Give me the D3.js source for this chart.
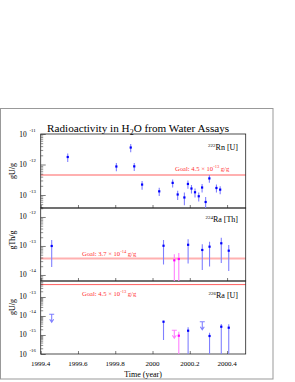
<!DOCTYPE html>
<html>
<head>
<meta charset="utf-8">
<script src="https://cdn.jsdelivr.net/npm/d3@7"></script>
<style>
body { margin: 0; background: #fff; }
svg { display: block; font-family: "Liberation Serif", "Times New Roman", serif; }
</style>
</head>
<body>
<div id="chart"></div>
<script>
const width = 295;
const height = 382;

// 222Rn assays (U chain), g/g
const rnYears = [1999.545, 1999.806, 1999.883, 1999.902, 1999.944, 2000.036, 2000.108, 2000.135, 2000.171,
    2000.190, 2000.209, 2000.228, 2000.248, 2000.266, 2000.285, 2000.305, 2000.343, 2000.363];
const rnValues = [1.76e-12, 8.6e-13, 3.6e-12, 8.7e-13, 2.2e-13, 1.32e-13, 2.5e-13, 1.04e-13, 8.3e-14,
    2.3e-13, 1.63e-13, 1.23e-13, 9.1e-14, 1.76e-13, 5.9e-14, 3.5e-13, 1.7e-13, 1.5e-13];
const rnErrors = [0.55e-12, 0.26e-12, 1.1e-12, 0.26e-12, 0.07e-12, 0.04e-12, 0.075e-12, 0.035e-12, 0.037e-12,
    0.07e-12, 0.05e-12, 0.04e-12, 0.03e-12, 0.055e-12, 0.027e-12, 0.1e-12, 0.05e-12, 0.045e-12];

// Ra assays share the sampling dates; method 'b' = blue, 'm' = magenta
const raYears = [1999.459, 2000.059, 2000.117, 2000.141, 2000.191, 2000.267, 2000.306, 2000.369, 2000.409];
const raMethod = ['b', 'b', 'm', 'm', 'b', 'b', 'b', 'b', 'b'];

// 224Ra (Th chain)
const thValues = [1.0e-13, 1.02e-13, 3.21e-14, 3.56e-14, 1.1e-13, 7.28e-14, 9.46e-14, 1.24e-13, 6.88e-14];
const thErrHigh = [6.1e-14, 5.9e-14, 1.96e-14, 2.18e-14, 6.0e-14, 4.2e-14, 4.6e-14, 6.9e-14, 3.9e-14];
const thErrLow = [8.1e-14, 7.9e-14, 3.21e-14, 3.56e-14, 8.5e-14, 5.8e-14, 7.5e-14, 9.8e-14, 5.5e-14];

// 226Ra (U chain); null value means only an upper limit was set
const uValues = [null, 5.0e-15, null, 9.18e-16, 1.68e-15, null, 8.86e-16, 2.73e-15, 2.42e-15];
const uErrHigh = [0, 0.66e-15, 0, 5.8e-16, 8.6e-16, 0, 4.4e-16, 1.06e-15, 1.23e-15];
const uErrLow = [0, 4.45e-15, 0, 9.18e-16, 1.68e-15, 0, 8.86e-16, 2.73e-15, 2.42e-15];
const uLimits = [1.23e-14, null, 1.77e-15, null, null, 5.0e-15, null, null, null];

const goals = [4.5e-13, 3.7e-14, 4.5e-13];
const goalTexts = [['4.5', '-13'], ['3.7', '-14'], ['4.5', '-13']];
const xTicks = [1999.4, 1999.6, 1999.8, 2000, 2000.2, 2000.4];

const colors = { b: '#0000ff', m: '#ff00ff' };
const barColors = { b: '#8080ff', m: '#ff80ff' };

const svg = d3.select('#chart').append('svg')
    .attr('width', width)
    .attr('height', height);

svg.append('rect').attr('width', width).attr('height', height).attr('fill', '#fff');

// outer canvas frame
svg.append('rect')
    .attr('x', 0.5).attr('y', 108.5)
    .attr('width', 272.5).attr('height', 270.5)
    .attr('fill', 'none').attr('stroke', '#999').attr('stroke-width', 1);

const left = 40.7, right = 245.7;
const x = d3.scaleLinear().domain([1999.4, 2000.5]).range([left, right]);

const panels = [
    { top: 134, bottom: 208, domain: [3.75e-14, 1e-11], iso: '222', name: 'Rn [U]', ylab: 'gU/g', ylabY: 171,
      goalX: 175, goalDy: -4, goalColor: '#ffb0b0', goalW: 2, labelY: 150 },
    { top: 208, bottom: 281, domain: [6.2e-15, 2.04e-12], iso: '224', name: 'Ra [Th]', ylab: 'gTh/g', ylabY: 240,
      goalX: 82, goalDy: -3, goalColor: '#ffb0b0', goalW: 2, labelY: 222 },
    { top: 281, bottom: 354, domain: [1e-16, 6.95e-13], iso: '226', name: 'Ra [U]', ylab: 'gU/g', ylabY: 307,
      goalX: 82, goalDy: 11, goalColor: '#ff6060', goalW: 1, labelY: 298 }
];

panels.forEach(p => {
    p.y = d3.scaleLog().domain(p.domain).range([p.bottom, p.top]);
});

// Title
const title = svg.append('text')
    .attr('x', 47).attr('y', 132)
    .attr('font-size', 11.2).attr('fill', '#000');
title.append('tspan').text('Radioactivity in H');
title.append('tspan').attr('font-size', 8).attr('dy', 3).text('2');
title.append('tspan').attr('dy', -3).text('O from Water Assays');

function drawPanel(p, i) {
    const g = svg.append('g');
    const y = p.y;

    // goal line
    g.append('line')
        .attr('x1', left).attr('x2', right)
        .attr('y1', y(goals[i])).attr('y2', y(goals[i]))
        .attr('stroke', p.goalColor).attr('stroke-width', p.goalW);

    const gt = g.append('text')
        .attr('x', p.goalX).attr('y', y(goals[i]) + p.goalDy)
        .attr('font-size', 6.6).attr('fill', '#ff3030');
    gt.append('tspan').text('Goal: ' + goalTexts[i][0] + ' \u00d7 10');
    gt.append('tspan').attr('font-size', 4.5).attr('dy', -3).text(goalTexts[i][1]);
    gt.append('tspan').attr('dy', 3).text(' g/g');

    // frame
    g.append('rect')
        .attr('x', left).attr('y', p.top)
        .attr('width', right - left).attr('height', p.bottom - p.top)
        .attr('fill', 'none').attr('stroke', '#222').attr('stroke-width', 0.8);

    // x ticks along the panel bottom
    g.append('g')
        .attr('transform', `translate(0,${p.bottom})`)
        .call(d3.axisTop(x).tickValues(xTicks).tickSize(3).tickFormat(''))
        .call(a => a.select('.domain').remove())
        .call(a => a.selectAll('line').attr('stroke', '#222').attr('stroke-width', 0.6));

    // y ticks: decades and minor ticks
    const lo = Math.ceil(Math.log10(p.domain[0]) - 1e-9);
    const hi = Math.floor(Math.log10(p.domain[1]) + 1e-9);
    const major = d3.range(lo, hi + 1).map(e => Math.pow(10, e));
    const minor = [];
    d3.range(lo - 1, hi + 1).forEach(e => {
        for (let k = 2; k < 10; k++) {
            const v = k * Math.pow(10, e);
            if (v > p.domain[0] && v < p.domain[1]) minor.push(v);
        }
    });
    g.append('g')
        .attr('transform', `translate(${left},0)`)
        .call(d3.axisRight(y).tickValues(major).tickSize(5).tickFormat(''))
        .call(a => a.select('.domain').remove())
        .call(a => a.selectAll('line').attr('stroke', '#222').attr('stroke-width', 0.6));
    g.append('g')
        .attr('transform', `translate(${left},0)`)
        .call(d3.axisRight(y).tickValues(minor).tickSize(2.5).tickFormat(''))
        .call(a => a.select('.domain').remove())
        .call(a => a.selectAll('line').attr('stroke', '#222').attr('stroke-width', 0.5));

    major.forEach(v => {
        g.append('text')
            .attr('x', 26.7).attr('y', y(v) + 2.5)
            .attr('text-anchor', 'end')
            .attr('font-size', 7.4).attr('fill', '#000')
            .text('10');
        g.append('text')
            .attr('x', 29.5).attr('y', y(v) - 2.5)
            .attr('font-size', 4.8).attr('fill', '#000')
            .text(String(Math.round(Math.log10(v))));
    });

    // y axis title
    g.append('text')
        .attr('transform', `translate(15,${p.ylabY}) rotate(-90)`)
        .attr('text-anchor', 'middle')
        .attr('font-size', 8).attr('fill', '#000')
        .text(p.ylab);

    // isotope label
    const il = g.append('text')
        .attr('x', 238).attr('y', p.labelY)
        .attr('text-anchor', 'end')
        .attr('font-size', 8).attr('fill', '#000');
    il.append('tspan').attr('font-size', 5).attr('dy', -3).text(p.iso);
    il.append('tspan').attr('dy', 3).text(p.name);
}

panels.forEach(drawPanel);

// clip per panel
panels.forEach((p, i) => {
    svg.append('clipPath').attr('id', 'clip' + i)
        .append('rect').attr('x', left).attr('y', p.top)
        .attr('width', right - left).attr('height', p.bottom - p.top);
});

function errorBar(g, xv, y, v, eLo, eHi, dom, col) {
    const yHi = y(v + eHi);
    const low = v - eLo;
    const yLo = low > dom[0] ? y(low) : y(dom[0]);
    g.append('line')
        .attr('x1', x(xv)).attr('x2', x(xv))
        .attr('y1', yHi).attr('y2', yLo)
        .attr('stroke', col).attr('stroke-width', 1.1);
}

function marker(g, xv, yv, col) {
    g.append('rect')
        .attr('x', x(xv) - 1.1).attr('y', yv - 1.1)
        .attr('width', 2.2).attr('height', 2.2)
        .attr('fill', col);
}

// Panel 1: 222Rn
{
    const p = panels[0];
    const g = svg.append('g').attr('clip-path', 'url(#clip0)');
    rnYears.forEach((yr, i) => {
        errorBar(g, yr, p.y, rnValues[i], rnErrors[i], rnErrors[i], p.domain, barColors.b);
        marker(g, yr, p.y(rnValues[i]), colors.b);
    });
}

// Panel 2: 224Ra
{
    const p = panels[1];
    const g = svg.append('g').attr('clip-path', 'url(#clip1)');
    raYears.forEach((yr, i) => {
        const m = raMethod[i];
        errorBar(g, yr, p.y, thValues[i], thErrLow[i], thErrHigh[i], p.domain, barColors[m]);
        marker(g, yr, p.y(thValues[i]), colors[m]);
    });
}

// Panel 3: 226Ra
{
    const p = panels[2];
    const g = svg.append('g').attr('clip-path', 'url(#clip2)');
    raYears.forEach((yr, i) => {
        const m = raMethod[i];
        if (uValues[i] !== null) {
            errorBar(g, yr, p.y, uValues[i], uErrLow[i], uErrHigh[i], p.domain, barColors[m]);
            marker(g, yr, p.y(uValues[i]), colors[m]);
        }
        if (uLimits[i] !== null) {
            const cx = x(yr), cy = p.y(uLimits[i]);
            g.append('path')
                .attr('d', `M${cx - 2.5},${cy}H${cx + 2.5}M${cx},${cy}V${cy + 8}M${cx - 2},${cy + 5}L${cx},${cy + 8}L${cx + 2},${cy + 5}`)
                .attr('fill', 'none')
                .attr('stroke', barColors[m]).attr('stroke-width', 1.1);
        }
    });
}

// x tick labels and title
xTicks.forEach(t => {
    svg.append('text')
        .attr('x', x(t)).attr('y', 366)
        .attr('text-anchor', 'middle')
        .attr('font-size', 7).attr('fill', '#000')
        .text(d3.format('')(t));
});

svg.append('text')
    .attr('x', 143).attr('y', 376.5)
    .attr('text-anchor', 'middle')
    .attr('font-size', 8).attr('fill', '#000')
    .text('Time (year)');
</script>
</body>
</html>
